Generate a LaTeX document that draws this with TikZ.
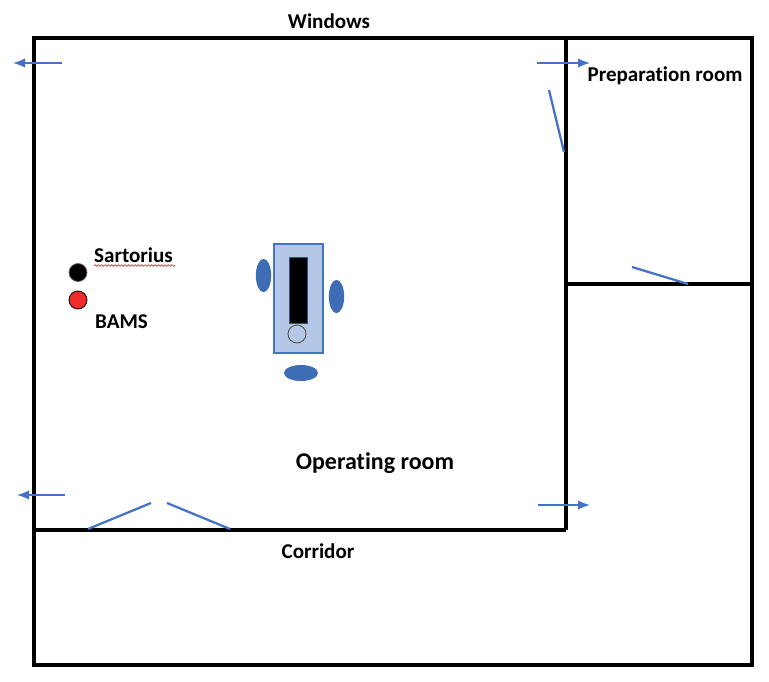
\documentclass[tikz,border=0pt]{standalone}
\usepackage{fontspec}
\setmainfont{Carlito}[Ligatures=NoCommon]
\usetikzlibrary{arrows.meta,decorations.pathmorphing,shapes.geometric}
\definecolor{doorblue}{HTML}{4472C4}
\definecolor{tablefill}{HTML}{B4C7E7}
\definecolor{patientblue}{HTML}{3E6DB5}
\definecolor{bamsred}{HTML}{EE2C2C}
\tikzset{
  wall/.style={line width=2.6pt,black},
  door/.style={line width=1.7pt,doorblue},
  airflow/.style={line width=1.1pt,doorblue,-{Latex[length=9pt,width=7pt]}},
  label/.style={inner sep=0pt,font=\bfseries\fontsize{15.8}{18}\selectfont},
  staff/.style={ellipse,fill=patientblue,inner sep=0pt},
  probe/.style={circle,line width=0.6pt,minimum size=13.5pt,inner sep=0pt}
}
\begin{document}
\begin{tikzpicture}[x=0.75pt,y=-0.75pt]
\useasboundingbox (0,0) rectangle (769,682);

% walls
\draw[wall] (34,38) rectangle (752,665);
\draw[wall] (566,38) -- (566,530);
\draw[wall] (34,530) -- (566,530);
\draw[wall] (566,284) -- (752,284);

% door leaves
\coordinate (prepTop) at (549,90);
\coordinate (prepHinge) at (564,152);
\coordinate (sideTop) at (632,267);
\coordinate (sideHinge) at (688,284);
\coordinate (leftHinge) at (88,529);
\coordinate (leftTip) at (151,503);
\coordinate (rightTip) at (167,503);
\coordinate (rightHinge) at (230,529);
\draw[door] (prepTop) -- (prepHinge);
\draw[door] (sideTop) -- (sideHinge);
\draw[door] (leftHinge) -- (leftTip);
\draw[door] (rightTip) -- (rightHinge);

% air flow
\coordinate (a1) at (62,63);
\coordinate (a2) at (13,63);
\coordinate (b1) at (537,63);
\coordinate (b2) at (590,63);
\coordinate (c1) at (65,495);
\coordinate (c2) at (17,495);
\coordinate (d1) at (538,505);
\coordinate (d2) at (590,505);
\draw[airflow] (a1) -- (a2);
\draw[airflow] (b1) -- (b2);
\draw[airflow] (c1) -- (c2);
\draw[airflow] (d1) -- (d2);

% table
\draw[draw=doorblue,fill=tablefill,line width=0.9pt] (274,244) rectangle (323,353);
\fill[black] (289,257) rectangle (307,323);
\draw[doorblue!70!black,line width=0.5pt] (289,257) rectangle (307,323);
\node[probe,draw=black!70,fill=tablefill] (head) at (297,334) {};

% staff
\node[staff,minimum width=11.5pt,minimum height=25pt] (staffA) at (263.5,275.5) {};
\node[staff,minimum width=11.5pt,minimum height=25pt] (staffB) at (336.5,296.5) {};
\node[staff,minimum width=25.5pt,minimum height=12pt] (staffC) at (301,373) {};

% samplers
\node[probe,fill=black,draw=black!60] (sartorius) at (78,272.5) {};
\node[probe,fill=bamsred,draw=black] (bams) at (78,300) {};
\draw[bamsred,line width=0.5pt,decorate,decoration={snake,amplitude=0.6pt,segment length=2.5pt}] (94,265.5) -- (175,265.5);

% labels
\node[label] (windows) at (329,21) {Windows};
\node[label] (preparation) at (665,76) {Preparation room};
\node[label] (sartoriusText) at (133.5,255) {Sartorius};
\node[label] (bamsText) at (121.5,321.5) {BAMS};
\node[label,font=\bfseries\fontsize{18}{21}\selectfont] (operating) at (375,463) {Operating room};
\node[label] (corridor) at (318,551.5) {Corridor};

\end{tikzpicture}
\end{document}
